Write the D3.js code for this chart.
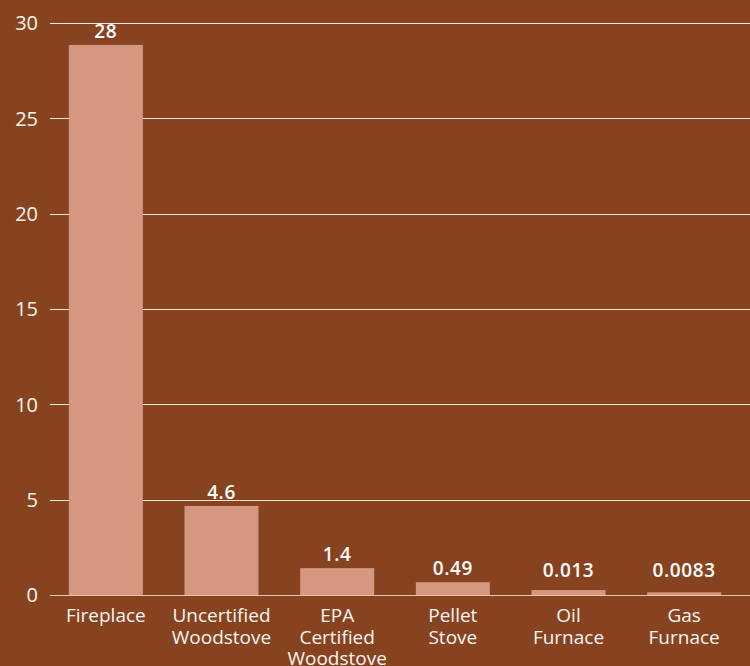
<!DOCTYPE html>
<html>
<head>
<meta charset="utf-8">
<script src="https://cdn.jsdelivr.net/npm/d3@7"></script>
<style>
  html, body { margin: 0; padding: 0; background: #874320; }
  svg { display: block; font-family: "Open Sans", sans-serif; }
</style>
</head>
<body>
<div class="chart"></div>
<script>
// categories (line breaks as in the original)
const categories = [
  ["Fireplace"],
  ["Uncertified", "Woodstove"],
  ["EPA", "Certified", "Woodstove"],
  ["Pellet", "Stove"],
  ["Oil", "Furnace"],
  ["Gas", "Furnace"]
];
// bar heights as drawn in the picture
const barValues = [28.85, 4.67, 1.41, 0.67, 0.26, 0.14];
// printed labels above the bars
const valueLabels = ["28", "4.6", "1.4", "0.49", "0.013", "0.0083"];
const yTicks = [0, 5, 10, 15, 20, 25, 30];

const W = 750, H = 666;

const svg = d3.select(".chart")
  .append("svg")
    .attr("width", W)
    .attr("height", H);

svg.append("rect")
  .attr("width", W).attr("height", H)
  .attr("fill", "#874320");

const y = d3.scaleLinear()
  .domain([0, 30])
  .range([595, 23]);

const x = d3.scaleBand()
  .domain(d3.range(categories.length))
  .range([48, 742])
  .paddingInner(0.36)
  .paddingOuter(0.18);

// gridlines
svg.append("g")
  .selectAll("line")
  .data(yTicks)
  .join("line")
    .attr("x1", 50)
    .attr("x2", W)
    .attr("y1", d => Math.round(y(d)) + 0.5)
    .attr("y2", d => Math.round(y(d)) + 0.5)
    .attr("stroke", d => d === 0 ? "#e6c3b3" : "#f4e9e2")
    .attr("stroke-width", 1);

// y tick labels
svg.append("g")
  .selectAll("text")
  .data(yTicks)
  .join("text")
    .attr("x", 38)
    .attr("y", d => y(d))
    .attr("dy", "0.36em")
    .attr("text-anchor", "end")
    .attr("fill", "#fbf5f1")
    .attr("font-size", 20)
    .text(d => d);

// bars
svg.append("g")
  .selectAll("rect")
  .data(barValues)
  .join("rect")
    .attr("x", (d, i) => x(i))
    .attr("y", d => y(d))
    .attr("width", x.bandwidth())
    .attr("height", d => y(0) - y(d))
    .attr("fill", "#d4977f");

// value labels
svg.append("g")
  .selectAll("text")
  .data(barValues)
  .join("text")
    .attr("x", (d, i) => x(i) + x.bandwidth() / 2)
    .attr("y", d => Math.min(y(d) - 7, 577))
    .attr("text-anchor", "middle")
    .attr("fill", "#ffffff")
    .attr("font-size", 19)
    .attr("font-weight", 600)
    .attr("letter-spacing", 0.6)
    .text((d, i) => valueLabels[i]);

// category labels
const cat = svg.append("g")
  .selectAll("text")
  .data(categories)
  .join("text")
    .attr("x", (d, i) => x(i) + x.bandwidth() / 2)
    .attr("y", 622)
    .attr("text-anchor", "middle")
    .attr("fill", "#fbf5f1")
    .attr("font-size", 19);

cat.selectAll("tspan")
  .data(d => d)
  .join("tspan")
    .attr("x", function() { return d3.select(this.parentNode).attr("x"); })
    .attr("dy", (d, i) => i === 0 ? 0 : 21.5)
    .text(d => d);
</script>
</body>
</html>
